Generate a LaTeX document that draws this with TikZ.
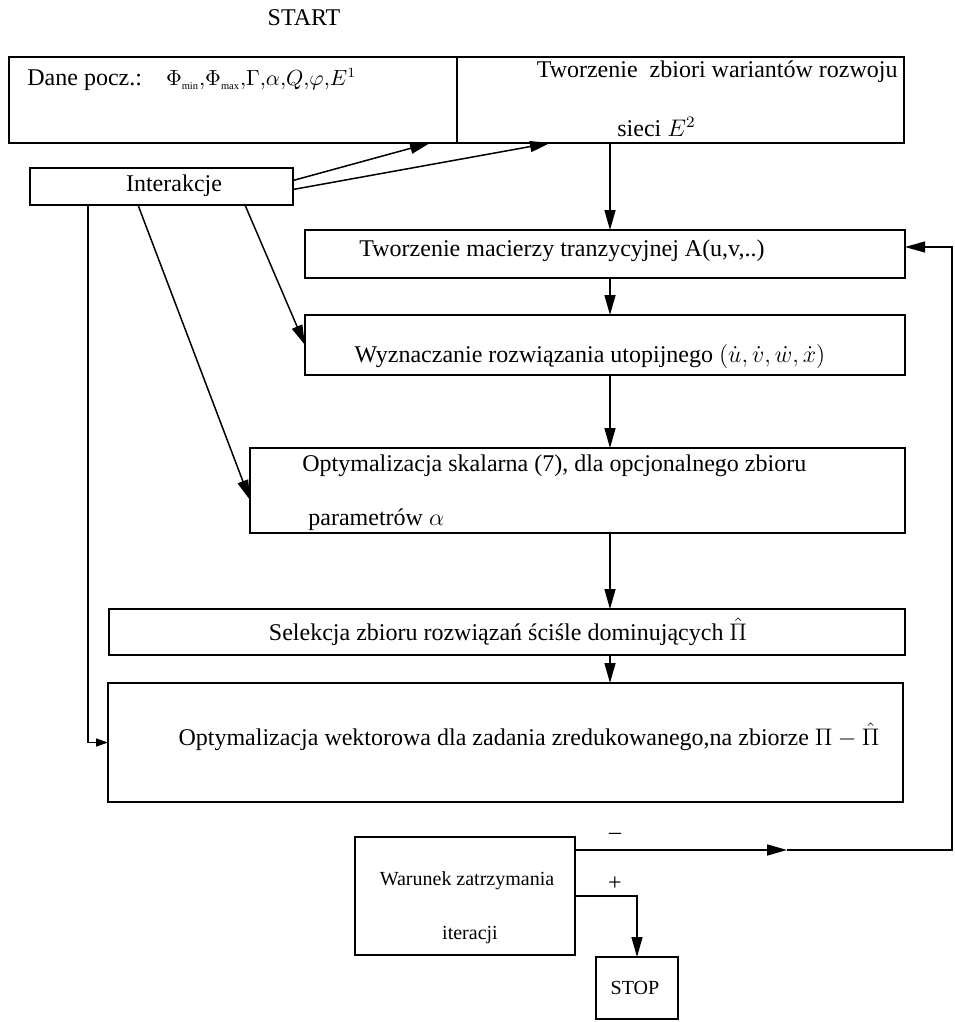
\documentclass[tikz,border=0pt]{standalone}
\usepackage{fontspec}
\setmainfont{Liberation Serif}
\usetikzlibrary{arrows.meta}
\begin{document}
\begin{tikzpicture}[x=0.5pt,y=-0.5pt,
  box/.style={draw,line width=0.75pt,inner sep=0pt,outer sep=0pt},
  txt/.style={font=\fontsize{12pt}{14pt}\selectfont,inner sep=0pt},
  stxt/.style={font=\fontsize{10pt}{12pt}\selectfont,inner sep=0pt},
  arr/.style={line width=0.75pt,-{Triangle[length=10pt,width=5.5pt]}},
  arrs/.style={line width=0.75pt,-{Triangle[length=6pt,width=4pt]}}]
\useasboundingbox (0,0) rectangle (954,1022);
% boxes
\node[box,minimum width=224pt,minimum height=43pt] (dane) at (233,100) {};
\node[box,minimum width=223.5pt,minimum height=43pt] (tworz) at (680.5,100) {};
\node[box,minimum width=131.5pt,minimum height=18.5pt] (inter) at (161.5,186.5) {};
\node[box,minimum width=300pt,minimum height=24pt] (mac) at (605,254) {};
\node[box,minimum width=300pt,minimum height=30pt] (wyz) at (605,345) {};
\node[box,minimum width=327.5pt,minimum height=42.5pt] (skal) at (577.5,490.5) {};
\node[box,minimum width=398pt,minimum height=23pt] (sel) at (507,632) {};
\node[box,minimum width=397.5pt,minimum height=59.5pt] (wekt) at (505.5,742.5) {};
\node[box,minimum width=110pt,minimum height=59pt] (war) at (465,896) {};
\node[box,minimum width=41pt,minimum height=31pt] (stop) at (637,988) {};
% texts
\node[txt] (start) at (304,18) {START};
\node[txt,anchor=west] (danet) at (27,80) {Dane pocz.:\hspace{12pt}{\fontsize{10.5pt}{12pt}\selectfont$\Phi_{\scriptscriptstyle\min}{,}\Phi_{\scriptscriptstyle\max}{,}\Gamma{,}\alpha{,}Q{,}\varphi{,}E^{1}$}};
\node[txt,anchor=east] (tworzt1) at (898,72) {Tworzenie\ \ zbiori wariantów rozwoju};
\node[txt,anchor=west] (tworzt2) at (617,127) {sieci $E^{2}$};
\node[txt] (intert) at (174,186) {Interakcje};
\node[txt] (mact) at (562,251) {Tworzenie macierzy tranzycyjnej A(u,v,..)};
\node[txt] (wyzt) at (590,356) {Wyznaczanie rozwiązania utopijnego $(\dot{u}{,}\,\dot{v}{,}\,\dot{w}{,}\,\dot{x})$};
\node[txt,anchor=west] (skalt1) at (302,466) {Optymalizacja skalarna (7), dla opcjonalnego zbioru};
\node[txt,anchor=west] (skalt2) at (308,520) {parametrów $\alpha$};
\node[txt] (selt) at (508,632) {Selekcja zbioru rozwiązań ściśle dominujących $\hat{\Pi}$};
\node[txt] (wektt) at (529,737) {Optymalizacja wektorowa dla zadania zredukowanego,na zbiorze $\Pi-\hat{\Pi}$};
\node[stxt] (wart1) at (467,881) {Warunek zatrzymania};
\node[stxt] (wart2) at (470,935) {iteracji};
\node[stxt] (stopt) at (635,988) {STOP};
\node[txt] (minus) at (615,836) {--};
\node[txt] (plus) at (615,884) {+};
% helper coordinates
\coordinate (cx) at (610,0);
\coordinate (fbx) at (952,0);
\coordinate (mid) at (787,850);
% connectors
\draw[arr] ([yshift=3pt]inter.east) -- ([xshift=-13.5pt]dane.south east);
\draw[arr] ([yshift=-1.5pt]inter.east) -- ([xshift=46.5pt]tworz.south west);
\draw[arr] (tworz.south -| cx) -- (mac.north -| cx);
\draw[arr] (mac.south -| cx) -- (wyz.north -| cx);
\draw[arr] (wyz.south -| cx) -- (skal.north -| cx);
\draw[arr] (skal.south -| cx) -- (sel.north -| cx);
\draw[arr] (sel.south -| cx) -- (wekt.north -| cx);
\draw[arr] ([xshift=-24pt]inter.south east) -- (wyz.west);
\draw[arr] ([xshift=54pt]inter.south west) -- ([yshift=-4.75pt]skal.west);
\draw[arrs] ([xshift=29pt]inter.south west) |- (wekt.west);
\draw[arr] ([yshift=23pt]war.east) -- (mid);
\draw[arr] (mid) -- (fbx |- mid) |- ([yshift=3.5pt]mac.east);
\draw[arr] (war.east) -| (stop.north);
\end{tikzpicture}
\end{document}
